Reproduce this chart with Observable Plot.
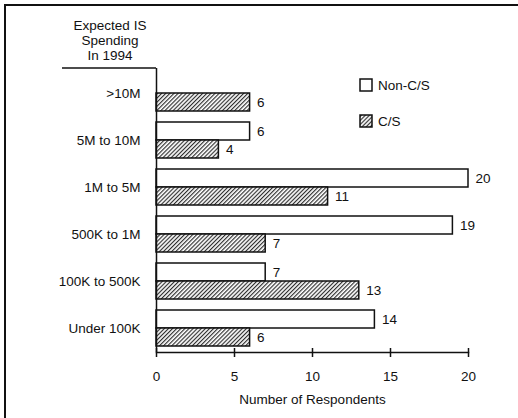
<!DOCTYPE html>
<html><head><meta charset="utf-8">
<script src="https://cdn.jsdelivr.net/npm/d3@7"></script>
<script src="https://cdn.jsdelivr.net/npm/@observablehq/plot@0.6"></script>
<style>
body{margin:0;background:#fff;}
#wrap{position:relative;width:518px;height:418px;overflow:hidden;background:#fff;}
#wrap svg{position:absolute;left:0;top:0;}
#border{position:absolute;left:4px;top:4px;right:-4px;bottom:-4px;border-top:2px solid #111;border-left:2.5px solid #111;pointer-events:none;}
</style></head><body><div id="wrap"><div id="border"></div></div>
<script>
const categories = [">10M", "5M to 10M", "1M to 5M", "500K to 1M", "100K to 500K", "Under 100K"];
const nonCS = [null, 6, 20, 19, 7, 14];
const cs = [6, 4, 11, 7, 13, 6];
const series = ["Non-C/S", "C/S"];
const titleLines = ["Expected IS", "Spending", "In 1994"];
const xTicks = [0, 5, 10, 15, 20];
const xLabel = "Number of Respondents";

const nonData = categories.map((c, i) => ({category: c, value: nonCS[i]})).filter(d => d.value != null);
const csData = categories.map((c, i) => ({category: c, value: cs[i]}));
const half = 18;
const font = "'Liberation Sans', Arial, Helvetica, sans-serif";

const plot = Plot.plot({
  width: 518, height: 418,
  marginLeft: 156, marginRight: 50, marginTop: 68, marginBottom: 66,
  style: {fontFamily: font, fontSize: "13.5px", color: "#111", background: "transparent", overflow: "visible"},
  x: {domain: [0, 20]},
  y: {domain: categories, paddingInner: 0.24, paddingOuter: 0.12},
  marks: [
    Plot.barX(nonData, {x: "value", y: "category", fill: "white", stroke: "#111", strokeWidth: 1.5, insetBottom: half}),
    Plot.barX(csData, {x: "value", y: "category", fill: "url(#hatch)", stroke: "#111", strokeWidth: 1.5, insetTop: half}),
    Plot.text(nonData, {x: "value", y: "category", text: "value", dx: 7, dy: -half / 2, textAnchor: "start", fill: "#111"}),
    Plot.text(csData, {x: "value", y: "category", text: "value", dx: 7, dy: half / 2, textAnchor: "start", fill: "#111"}),
    Plot.ruleX([0], {stroke: "#111", strokeWidth: 1.5}),
    Plot.frame({anchor: "bottom", stroke: "#111", strokeWidth: 1.5}),
    Plot.axisX({ticks: xTicks, tickSize: 9, dy: -4, fill: "none", label: null, strokeWidth: 1.5}),
    Plot.axisX({ticks: xTicks, tickSize: 0, tickPadding: 19, label: null, fill: "#111"}),
    Plot.axisY({tickSize: 0, tickPadding: 16, label: null, fill: "#111"}),
    Plot.text([xLabel], {frameAnchor: "bottom", dy: 51, fill: "#111"})
  ]
});

const svg = d3.select(plot);
svg.insert("defs", ":first-child").html(
  `<pattern id="hatch" patternUnits="userSpaceOnUse" width="2.9" height="2.9" patternTransform="rotate(45)">
     <rect width="2.9" height="2.9" fill="white"/>
     <line x1="0.6" y1="0" x2="0.6" y2="2.9" stroke="#222" stroke-width="1.1"/>
   </pattern>`);

// header line over the category labels
svg.append("line").attr("x1", 62).attr("x2", 156).attr("y1", 68).attr("y2", 68)
  .attr("stroke", "#111").attr("stroke-width", 1.5);

// title
const t = svg.append("text").attr("font-family", font).attr("font-size", 13.5)
  .attr("fill", "#111").attr("text-anchor", "middle");
titleLines.forEach((s, i) => t.append("tspan").attr("x", 110).attr("y", 30 + i * 15).text(s));

// legend
const leg = svg.append("g").attr("font-family", font).attr("font-size", 13.5)
  .attr("fill", "#111").attr("text-anchor", "start");
series.forEach((s, i) => {
  const y = 79 + i * 36;
  leg.append("rect").attr("x", 360).attr("y", y).attr("width", 12).attr("height", 12)
    .attr("fill", i === 0 ? "white" : "url(#hatch)").attr("stroke", "#111").attr("stroke-width", 1.5);
  leg.append("text").attr("x", 378).attr("y", y + 6).attr("dy", "0.35em").attr("text-anchor", "start").text(s);
});

document.getElementById("wrap").appendChild(plot);
</script></body></html>
